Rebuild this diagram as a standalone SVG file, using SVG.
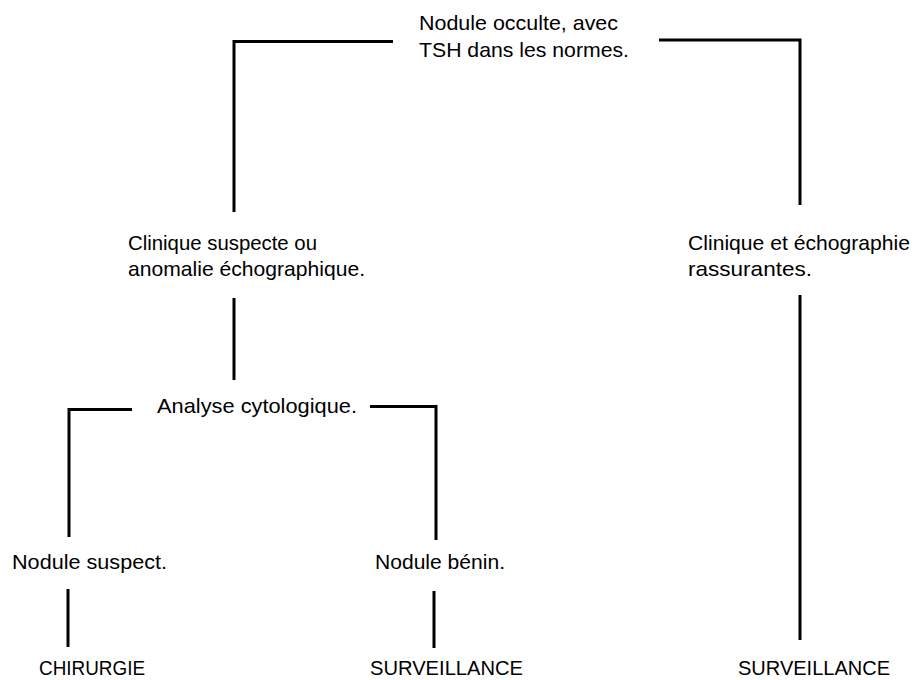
<svg xmlns="http://www.w3.org/2000/svg" width="915" height="680" viewBox="0 0 915 680">
<style>
text { font-family: "Liberation Sans", Arial, sans-serif; font-size: 21px; fill: #000; }
.c { fill: none; stroke: #000; stroke-width: 3; stroke-linecap: butt; stroke-linejoin: miter; }
</style>
<rect width="915" height="680" fill="#fff"/>
<g id="connectors">
<path class="c" d="M393,41.5 H234 V212"/>
<path class="c" d="M659,40 H800 V205"/>
<path class="c" d="M234,298 V380"/>
<path class="c" d="M132,409.5 H69 V537"/>
<path class="c" d="M370,406.5 H436 V540"/>
<path class="c" d="M68,589 V647"/>
<path class="c" d="M434,591 V648"/>
<path class="c" d="M800,295 V640"/>
</g>
<g id="n-root">
<text x="419" y="30" textLength="199" lengthAdjust="spacingAndGlyphs">Nodule occulte, avec</text>
<text x="419" y="57" textLength="210" lengthAdjust="spacingAndGlyphs">TSH dans les normes.</text>
</g>
<g id="n-suspecte">
<text x="128" y="250" textLength="189" lengthAdjust="spacingAndGlyphs">Clinique suspecte ou</text>
<text x="128" y="276" textLength="237" lengthAdjust="spacingAndGlyphs">anomalie échographique.</text>
</g>
<g id="n-rassurantes">
<text x="688" y="250" textLength="222" lengthAdjust="spacingAndGlyphs">Clinique et échographie</text>
<text x="688" y="276" textLength="124" lengthAdjust="spacingAndGlyphs">rassurantes.</text>
</g>
<g id="n-cyto">
<text x="157" y="413" textLength="200" lengthAdjust="spacingAndGlyphs">Analyse cytologique.</text>
</g>
<g id="n-nodule-suspect">
<text x="12" y="569" textLength="155" lengthAdjust="spacingAndGlyphs">Nodule suspect.</text>
</g>
<g id="n-nodule-benin">
<text x="375" y="569" textLength="130" lengthAdjust="spacingAndGlyphs">Nodule bénin.</text>
</g>
<g id="n-chirurgie">
<text x="39" y="675" textLength="106" lengthAdjust="spacingAndGlyphs">CHIRURGIE</text>
</g>
<g id="n-surveillance-1">
<text x="370" y="675" textLength="153" lengthAdjust="spacingAndGlyphs">SURVEILLANCE</text>
</g>
<g id="n-surveillance-2">
<text x="738" y="675" textLength="152" lengthAdjust="spacingAndGlyphs">SURVEILLANCE</text>
</g>
</svg>
